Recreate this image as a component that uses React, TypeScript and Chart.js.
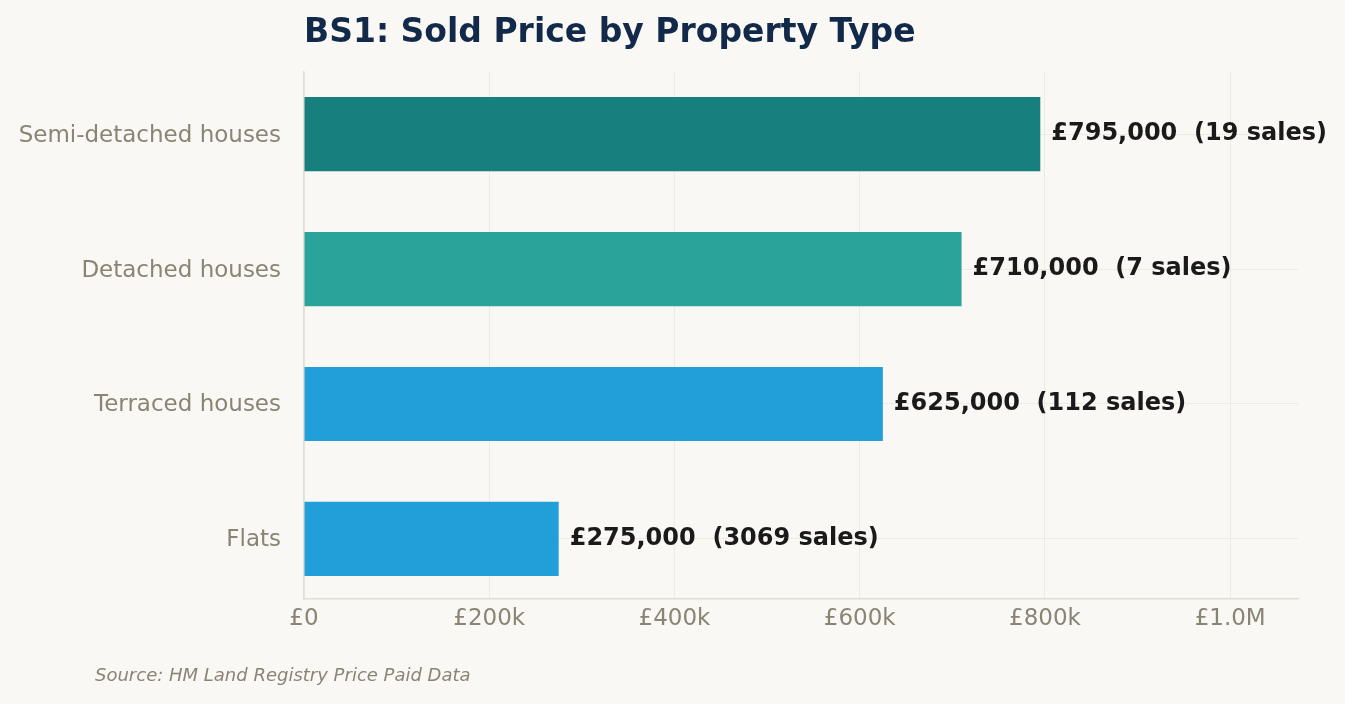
import React, { useEffect, useRef } from 'react';
import { Chart, registerables } from 'chart.js';

Chart.register(...registerables);

// bottom to top, as on the chart
const categories = ['Flats', 'Terraced houses', 'Detached houses', 'Semi-detached houses'];
const medianPrices = [275000, 625000, 710000, 795000];
const salesCounts = [3069, 112, 7, 19];
const barColours = ['#229ed9', '#229ed9', '#2aa39a', '#17807e'];
const xTicks = [0, 200000, 400000, 600000, 800000, 1000000];

const BG = '#f9f8f4';
const MUTED = '#8a8474';
const FONT = '"DejaVu Sans", Verdana, sans-serif';

function fmtTick(v: number) {
  if (v === 0) return '£0';
  if (v >= 1000000) return '£' + (v / 1000000).toFixed(1) + 'M';
  return '£' + v / 1000 + 'k';
}

export default function App() {
  const canvasRef = useRef<HTMLCanvasElement | null>(null);

  useEffect(() => {
    document.body.style.margin = '0';
    document.body.style.background = BG;
    if (!canvasRef.current) return;

    const xMax = Math.max(...medianPrices) * 1.35;

    // fondo, título, etiquetas de valor y fuente
    const decor = {
      id: 'decor',
      beforeDraw(chart: any) {
        const { ctx } = chart;
        ctx.save();
        ctx.fillStyle = BG;
        ctx.fillRect(0, 0, chart.width, chart.height);
        ctx.restore();
      },
      afterDraw(chart: any) {
        const { ctx, chartArea } = chart;
        const xs = chart.scales.x;
        const ys = chart.scales.y;
        ctx.save();
        ctx.textBaseline = 'middle';
        ctx.textAlign = 'left';

        ctx.fillStyle = '#12294a';
        ctx.font = `bold 33px ${FONT}`;
        ctx.fillText('BS1: Sold Price by Property Type', chartArea.left, 33);

        ctx.fillStyle = '#1a1a1a';
        ctx.font = `bold 24px ${FONT}`;
        medianPrices.forEach((p, i) => {
          const label = '£' + p.toLocaleString('en-GB') + '  (' + salesCounts[i] + ' sales)';
          ctx.fillText(label, xs.getPixelForValue(p) + 11, ys.getPixelForValue(i));
        });

        ctx.fillStyle = MUTED;
        ctx.font = `italic 18px ${FONT}`;
        ctx.fillText('Source: HM Land Registry Price Paid Data', 95, 676);
        ctx.restore();
      }
    };

    const chart = new Chart(canvasRef.current, {
      type: 'bar',
      data: {
        datasets: [
          {
            data: medianPrices.map((p, i) => ({ x: p, y: i })),
            backgroundColor: barColours,
            borderWidth: 0,
            barPercentage: 0.55,
            categoryPercentage: 1
          }
        ]
      },
      options: {
        indexAxis: 'y',
        animation: false,
        responsive: false,
        layout: { padding: { top: 72, right: 47, left: 0, bottom: 0 } },
        plugins: {
          legend: { display: false },
          tooltip: { enabled: false },
          title: { display: false }
        },
        scales: {
          x: {
            type: 'linear',
            min: 0,
            max: xMax,
            afterBuildTicks: (axis: any) => {
              axis.ticks = xTicks.map((v) => ({ value: v }));
            },
            afterFit: (scale: any) => {
              scale.height = 105;
            },
            grid: { color: '#eeebe3', lineWidth: 1, drawTicks: false },
            border: { color: '#e2ddcf', width: 1.5 },
            ticks: {
              padding: 6,
              color: MUTED,
              font: { family: FONT, size: 23 },
              callback: (v: any) => fmtTick(Number(v))
            }
          },
          y: {
            type: 'linear',
            min: -0.445,
            max: 3.46,
            offset: false,
            afterBuildTicks: (axis: any) => {
              axis.ticks = categories.map((_, i) => ({ value: i }));
            },
            afterFit: (scale: any) => {
              scale.width = 304;
            },
            grid: { color: '#eeebe3', lineWidth: 1, drawTicks: false, offset: false },
            border: { color: '#e2ddcf', width: 1.5 },
            ticks: {
              padding: 23,
              labelOffset: 1.5,
              color: MUTED,
              font: { family: FONT, size: 23 },
              callback: (v: any) => categories[Math.round(Number(v))] ?? ''
            }
          }
        }
      },
      plugins: [decor]
    } as any);

    return () => {
      chart.destroy();
    };
  }, []);

  return (
    <div style={{ width: 1345, height: 704, background: BG }}>
      <canvas ref={canvasRef} width={1345} height={704}></canvas>
    </div>
  );
}
